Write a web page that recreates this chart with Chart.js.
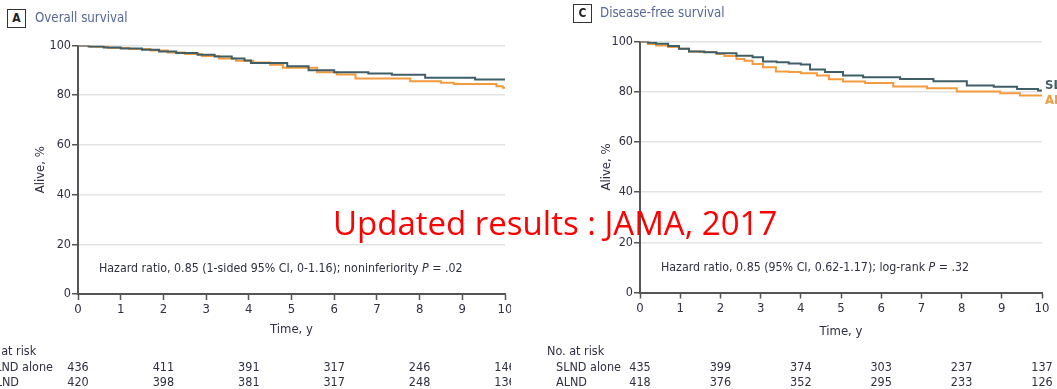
<!DOCTYPE html>
<html>
<head>
<meta charset="utf-8">
<script src="https://cdn.jsdelivr.net/npm/chart.js@4.4.0/dist/chart.umd.min.js"></script>
<style>
body{margin:0;background:#fff;width:1057px;height:389px;overflow:hidden;position:relative;font-family:"DejaVu Sans Condensed",sans-serif;}
.panel{position:absolute;top:0;height:389px;overflow:hidden;}
#pA{left:0;width:511px;}
#pC{left:540px;width:517px;}
.panel canvas{position:absolute;left:0;top:0;}
.tag{position:absolute;border:1.5px solid #333;width:17px;height:17px;font-weight:bold;font-size:12px;text-align:center;line-height:17px;color:#222;background:#fff;}
.ttl{position:absolute;font-size:13.2px;color:#56679a;white-space:nowrap;}
#note{position:absolute;left:333px;top:205.7px;color:#ff0000;font-family:"Open Sans",sans-serif;font-size:33px;line-height:1;white-space:nowrap;}
</style>
</head>
<body>
<div class="panel" id="pA"><canvas id="osChart" width="530" height="389"></canvas></div>
<div class="panel" id="pC"><canvas id="dfsChart" width="517" height="389"></canvas></div>
<div class="tag" style="left:7px;top:9px;">A</div>
<div class="ttl" style="left:35px;top:10px;">Overall survival</div>
<div class="tag" style="left:573px;top:4px;">C</div>
<div class="ttl" style="left:600px;top:5px;">Disease-free survival</div>
<div id="note">Updated results : JAMA, 2017</div>
<script>
// groupes et tableau "No. at risk"
const grupos = ["SLND alone", "ALND"];
const tempoRisco = [0, 2, 4, 6, 8, 10];
const riscoOS_SLND = [436, 411, 391, 317, 246, 146];
const riscoOS_ALND = [420, 398, 381, 317, 248, 136];
const riscoDFS_SLND = [435, 399, 374, 303, 237, 137];
const riscoDFS_ALND = [418, 376, 352, 295, 233, 126];

// Overall survival (painel A)
const osTempoSLND = [0, 0.25, 0.6, 1.0, 1.5, 1.9, 2.3, 2.8, 3.2, 3.6, 3.9, 4.05, 4.9, 5.4, 6.0, 6.8, 7.35, 8.13, 9.3, 10];
const osVivoSLND  = [100, 99.6, 99.2, 98.8, 98.3, 97.6, 97.0, 96.3, 95.6, 94.8, 94.0, 93.0, 91.6, 90.0, 89.2, 88.7, 88.2, 87.0, 86.3, 86.3];
const osTempoALND = [0, 0.3, 0.7, 1.2, 1.7, 2.1, 2.5, 2.9, 3.3, 3.7, 4.1, 4.5, 4.8, 5.6, 6.06, 6.5, 7.78, 8.5, 8.8, 9.8, 9.95, 10];
const osVivoALND  = [100, 99.5, 99.0, 98.6, 98.0, 97.2, 96.6, 95.8, 94.8, 93.9, 93.2, 92.3, 91.0, 89.2, 88.3, 86.7, 85.6, 85.0, 84.5, 83.6, 83.0, 83.0];

// Disease-free survival (painel C)
const dfsTempoSLND = [0, 0.2, 0.4, 0.7, 0.97, 1.22, 1.6, 1.9, 2.4, 2.8, 3.06, 3.4, 3.7, 4.0, 4.23, 4.6, 5.05, 5.55, 6.47, 7.3, 8.13, 8.8, 9.38, 9.9, 10];
const dfsVivoSLND  = [100, 99.5, 99.1, 98.2, 97.1, 96.0, 95.7, 95.3, 94.3, 93.7, 92.0, 91.7, 91.2, 90.8, 88.8, 87.8, 86.5, 85.8, 85.1, 84.2, 82.5, 82.0, 81.1, 80.5, 80.5];
const dfsTempoALND = [0, 0.2, 0.4, 0.7, 0.97, 1.22, 1.5, 1.9, 2.1, 2.4, 2.6, 2.8, 3.06, 3.38, 3.7, 4.0, 4.4, 4.7, 5.05, 5.6, 6.3, 7.14, 7.88, 8.96, 9.45, 10];
const dfsVivoALND  = [100, 99.0, 98.4, 97.8, 97.1, 96.0, 95.8, 95.0, 94.2, 93.0, 92.3, 91.0, 89.7, 88.0, 87.8, 87.4, 86.5, 85.0, 84.1, 83.5, 82.1, 81.4, 80.1, 79.4, 78.5, 78.3];

const FONTE = '"DejaVu Sans Condensed", sans-serif';
const corSLND = "#3f5f68";
const corALND = "#f49b3f";
const corTexto = "#2f3042";

function pares(tempos, valores){
    return tempos.map((t,i) => ({x: t, y: valores[i]}));
}

// desenha tabela de risco, hazard ratio e rótulos finais
const extrasPlugin = {
    id: "extras",
    afterDraw(chart, args, o){
        const {ctx, chartArea} = chart;
        const sx = chart.scales.x, sy = chart.scales.y;
        ctx.save();
        ctx.fillStyle = corTexto;
        ctx.textBaseline = "middle";

        // hazard ratio
        ctx.font = "12.3px " + FONTE;
        ctx.textAlign = "left";
        let hx = chartArea.left + 21;
        const hy = sy.getPixelForValue(10);
        ctx.fillText(o.hr[0], hx, hy);
        hx += ctx.measureText(o.hr[0]).width;
        ctx.font = "italic 12.3px " + FONTE;
        ctx.fillText("P", hx, hy);
        hx += ctx.measureText("P").width;
        ctx.font = "12.3px " + FONTE;
        ctx.fillText(o.hr[1], hx, hy);

        // No. at risk
        ctx.font = "12.5px " + FONTE;
        ctx.fillText("No. at risk", chartArea.left - o.recuo, 352);
        ctx.fillText(grupos[0], chartArea.left - o.recuo + 9, 367.5);
        ctx.fillText(grupos[1], chartArea.left - o.recuo + 9, 383);
        ctx.textAlign = "center";
        tempoRisco.forEach((t,i)=>{
            const px = sx.getPixelForValue(t);
            ctx.fillText(o.slnd[i], px, 367.5);
            ctx.fillText(o.alnd[i], px, 383);
        });

        // rótulos no fim das curvas
        if(o.fim){
            ctx.textAlign = "left";
            ctx.font = "bold 13px " + FONTE;
            ctx.fillStyle = corSLND;
            ctx.fillText(grupos[0], chartArea.right + 3, sy.getPixelForValue(o.fim[0]));
            ctx.fillStyle = corALND;
            ctx.fillText(grupos[1], chartArea.right + 3, sy.getPixelForValue(o.fim[1]));
        }
        ctx.restore();
    }
};

function criarGrafico(id, dadosSLND, dadosALND, cfg){
    const ctx = document.getElementById(id).getContext("2d");
    return new Chart(ctx, {
        type: "line",
        data: {
            datasets: [
                {label: grupos[0], data: dadosSLND, borderColor: corSLND, borderWidth: 2, stepped: true, pointRadius: 0, fill: false},
                {label: grupos[1], data: dadosALND, borderColor: corALND, borderWidth: 2, stepped: true, pointRadius: 0, fill: false}
            ]
        },
        options: {
            responsive: false,
            animation: false,
            devicePixelRatio: 1,
            layout: {padding: {left: 0, right: cfg.padDir, top: cfg.topo, bottom: 0}},
            plugins: {
                legend: {display: false},
                tooltip: {enabled: false},
                extras: cfg.extras
            },
            scales: {
                x: {
                    type: "linear", min: 0, max: 10,
                    afterFit: s => { s.height = cfg.altX; },
                    ticks: {stepSize: 1, autoSkip: false, maxRotation: 0, padding: 2, color: corTexto, font: {family: FONTE, size: 13}},
                    grid: {drawOnChartArea: false, drawTicks: true, tickLength: 6, tickColor: "#555", tickWidth: 1.5},
                    border: {display: true, color: "#555", width: 2},
                    title: {display: true, text: "Time, y", color: corTexto, font: {family: FONTE, size: 13}, padding: {top: 0, bottom: cfg.tituloX}}
                },
                y: {
                    min: 0, max: 100,
                    afterFit: s => { s.width = cfg.largY; },
                    ticks: {stepSize: 20, padding: 1, color: corTexto, font: {family: FONTE, size: 12.5}},
                    grid: {color: "#e3e3e3", lineWidth: 1.5, tickLength: 6, tickColor: "#555", tickWidth: 1.5},
                    border: {display: true, color: "#555", width: 2},
                    title: {display: true, text: "Alive, %", color: corTexto, font: {family: FONTE, size: 13}, padding: {top: cfg.tituloY, bottom: 0}}
                }
            }
        },
        plugins: [extrasPlugin]
    });
}

criarGrafico("osChart", pares(osTempoSLND, osVivoSLND), pares(osTempoALND, osVivoALND), {
    padDir: 25, topo: 45.5, altX: 95, largY: 78, tituloX: 51.2, tituloY: 33.2,
    extras: {
        hr: ["Hazard ratio, 0.85 (1-sided 95% CI, 0-1.16); noninferiority ", " = .02"],
        slnd: riscoOS_SLND, alnd: riscoOS_ALND, recuo: 99
    }
});

criarGrafico("dfsChart", pares(dfsTempoSLND, dfsVivoSLND), pares(dfsTempoALND, dfsVivoALND), {
    padDir: 15, topo: 41.5, altX: 96.5, largY: 100, tituloX: 49.2, tituloY: 59.2,
    extras: {
        hr: ["Hazard ratio, 0.85 (95% CI, 0.62-1.17); log-rank ", " = .32"],
        slnd: riscoDFS_SLND, alnd: riscoDFS_ALND, recuo: 93,
        fim: [82.3, 76.5]
    }
});
</script>
</body>
</html>
